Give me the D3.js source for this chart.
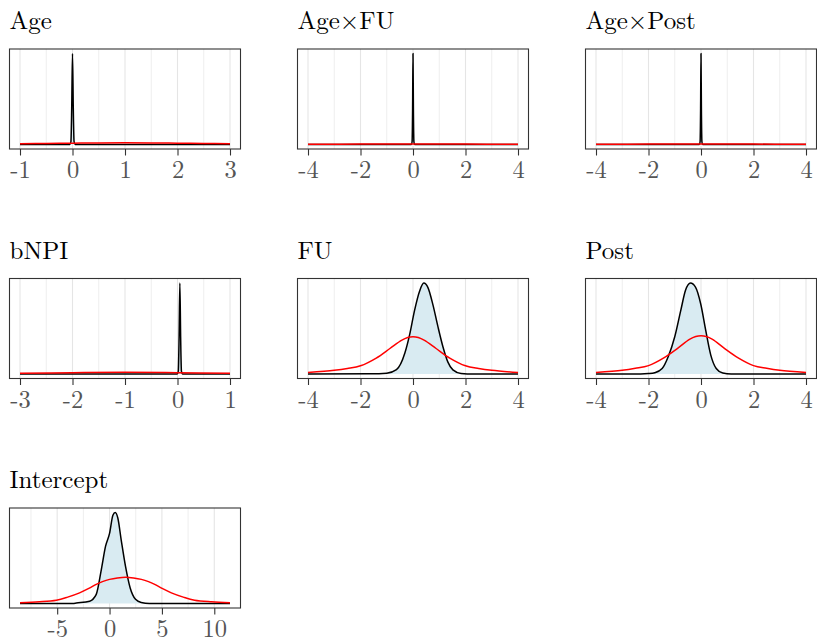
<!DOCTYPE html>
<html>
<head>
<meta charset="utf-8">
<script src="https://cdn.jsdelivr.net/npm/d3@7"></script>
<style>
  html, body { margin: 0; padding: 0; background: #ffffff; }
  svg { display: block; }
</style>
</head>
<body>
<svg id="chart" width="817" height="640"></svg>
<script>
// Parameter names, one facet each
const parameters = ["Age", "Age×FU", "Age×Post", "bNPI", "FU", "Post", "Intercept"];

// Range over which each density was evaluated
const ranges = [[-1, 3], [-4, 4], [-4, 4], [-3, 1], [-4, 4], [-4, 4], [-8.55, 11.5]];

// Axis tick values and their labels
const tickValues = [
  [-1, 0, 1, 2, 3],
  [-4, -2, 0, 2, 4],
  [-4, -2, 0, 2, 4],
  [-3, -2, -1, 0, 1],
  [-4, -2, 0, 2, 4],
  [-4, -2, 0, 2, 4],
  [-5, 0, 5, 10]
];
const tickLabels = [
  ["-1", "0", "1", "2", "3"],
  ["-4", "-2", "0", "2", "4"],
  ["-4", "-2", "0", "2", "4"],
  ["-3", "-2", "-1", "0", "1"],
  ["-4", "-2", "0", "2", "4"],
  ["-4", "-2", "0", "2", "4"],
  ["-5", "0", "5", "10"]
];
const minorGrid = [
  [-0.5, 0.5, 1.5, 2.5],
  [-3, -1, 1, 3],
  [-3, -1, 1, 3],
  [-2.5, -1.5, -0.5, 0.5],
  [-3, -1, 1, 3],
  [-3, -1, 1, 3],
  [-7.5, -2.5, 2.5, 7.5]
];

// Posterior densities [x, density] (relative to the posterior mode)
const postAge = [[-1, 0], [-0.05, 0], [-0.03, 0.03], [-0.015, 0.4], [0, 1], [0.015, 0.4], [0.03, 0.03], [0.05, 0], [3, 0]];
const postAgeFU = [[-4, 0], [-0.06, 0], [-0.035, 0.03], [-0.015, 0.4], [0, 1], [0.015, 0.4], [0.035, 0.03], [0.06, 0], [4, 0]];
const postAgePost = [[-4, 0], [-0.06, 0], [-0.035, 0.03], [-0.015, 0.4], [0, 1], [0.015, 0.4], [0.035, 0.03], [0.06, 0], [4, 0]];
const postBNPI = [[-3, 0], [-0.005, 0], [0.015, 0.03], [0.03, 0.4], [0.045, 1], [0.06, 0.4], [0.075, 0.03], [0.095, 0], [1, 0]];
const postFU = [[-4, 0], [-1.6, 0.001], [-1.0, 0.008], [-0.63, 0.047], [-0.31, 0.23], [-0.13, 0.43],
  [0.06, 0.70], [0.25, 0.91], [0.41, 1.0], [0.57, 0.95], [0.76, 0.76], [0.95, 0.52], [1.14, 0.30],
  [1.33, 0.13], [1.52, 0.045], [1.83, 0.006], [2.3, 0], [4, 0]];
const postPost = [[-4, 0], [-2.3, 0], [-2.0, 0.004], [-1.76, 0.014], [-1.48, 0.06], [-1.25, 0.19],
  [-1.0, 0.41], [-0.77, 0.70], [-0.59, 0.92], [-0.40, 1.0], [-0.21, 0.956], [-0.01, 0.77],
  [0.18, 0.48], [0.37, 0.21], [0.58, 0.06], [0.83, 0.01], [1.15, 0], [4, 0]];
const postIntercept = [[-8.55, 0], [-3.5, 0], [-3.17, 0.005], [-1.9, 0.025], [-1.27, 0.1], [-0.79, 0.37],
  [-0.38, 0.63], [0, 0.77], [0.32, 0.97], [0.54, 1.0], [0.79, 0.94], [1.11, 0.70], [1.52, 0.41],
  [1.97, 0.17], [2.48, 0.045], [3.02, 0.01], [3.8, 0], [11.5, 0]];

// Prior densities on the same relative scale
const priorAge = [[-1, 0.008], [-0.5, 0.011], [0, 0.014], [0.5, 0.017], [1, 0.018], [1.5, 0.017], [2, 0.014], [2.5, 0.011], [3, 0.008]];
const priorAgeFU = [[-4, 0.002], [-2, 0.004], [0, 0.006], [2, 0.004], [4, 0.002]];
const priorAgePost = [[-4, 0.002], [-2, 0.004], [0, 0.006], [2, 0.004], [4, 0.002]];
const priorBNPI = [[-3, 0.008], [-2, 0.014], [-1, 0.018], [0, 0.014], [1, 0.008]];
const priorFU = [[-4, 0.015], [-3, 0.04], [-2.5, 0.06], [-2, 0.09], [-1.4, 0.175], [-0.88, 0.28], [-0.44, 0.37],
  [-0.2, 0.402], [0, 0.41], [0.2, 0.402], [0.44, 0.37], [0.88, 0.28], [1.4, 0.175], [2, 0.09],
  [2.5, 0.06], [3, 0.04], [4, 0.015]];
const priorPost = [[-4, 0.015], [-3, 0.04], [-2.5, 0.062], [-2, 0.092], [-1.4, 0.18], [-0.88, 0.285], [-0.44, 0.38],
  [-0.2, 0.412], [0, 0.42], [0.2, 0.412], [0.44, 0.38], [0.88, 0.285], [1.4, 0.18], [2, 0.092],
  [2.5, 0.062], [3, 0.04], [4, 0.015]];
const priorIntercept = [[-8.55, 0.008], [-6.7, 0.018], [-5.08, 0.036], [-4, 0.07], [-2.86, 0.117], [-1.98, 0.165],
  [-1.27, 0.21], [-0.68, 0.24], [0, 0.265], [0.75, 0.281], [1.52, 0.289], [2.29, 0.281], [3.04, 0.265],
  [3.72, 0.24], [4.31, 0.21], [5.02, 0.165], [5.9, 0.117], [7.04, 0.07], [8.12, 0.036], [9.74, 0.018],
  [11.5, 0.008]];

const posteriors = [postAge, postAgeFU, postAgePost, postBNPI, postFU, postPost, postIntercept];
const priors = [priorAge, priorAgeFU, priorAgePost, priorBNPI, priorFU, priorPost, priorIntercept];

// Facet layout
const colLeft = [9.5, 297.5, 585.5];
const rowTop = [49, 278.5, 508];
const panelW = 231;
const panelH = 100;

const svg = d3.select("#chart");
const serif = '"Latin Modern Roman", "Liberation Serif", "Times New Roman", serif';

parameters.forEach((name, i) => {
  const col = i % 3, row = Math.floor(i / 3);
  const left = colLeft[col], top = rowTop[row];
  const g = svg.append("g").attr("transform", `translate(${left},${top})`);

  const [lo, hi] = ranges[i];
  const padX = (hi - lo) * 0.05;
  const x = d3.scaleLinear().domain([lo - padX, hi + padX]).range([0, panelW]);
  const yMax = d3.max(posteriors[i].concat(priors[i]), d => d[1]);
  const y = d3.scaleLinear().domain([-0.05 * yMax, 1.05 * yMax]).range([panelH, 0]);

  // facet title
  svg.append("text")
    .attr("x", left)
    .attr("y", top - 20)
    .style("font-family", serif)
    .style("font-size", "25px")
    .style("fill", "#000")
    .text(name);

  // grid lines
  g.selectAll("line.minor").data(minorGrid[i]).enter().append("line")
    .attr("x1", d => x(d)).attr("x2", d => x(d))
    .attr("y1", 0).attr("y2", panelH)
    .attr("stroke", "#eeeeee").attr("stroke-width", 1);
  g.selectAll("line.major").data(tickValues[i]).enter().append("line")
    .attr("x1", d => x(d)).attr("x2", d => x(d))
    .attr("y1", 0).attr("y2", panelH)
    .attr("stroke", "#e5e5e5").attr("stroke-width", 1.1);

  const area = d3.area().x(d => x(d[0])).y0(y(0)).y1(d => y(d[1])).curve(d3.curveMonotoneX);
  const line = d3.line().x(d => x(d[0])).y(d => y(d[1])).curve(d3.curveMonotoneX);
  const smooth = d3.line().x(d => x(d[0])).y(d => y(d[1])).curve(d3.curveCatmullRom.alpha(0.5));

  g.append("path").datum(posteriors[i]).attr("d", area)
    .attr("fill", "#d9ebf2").attr("stroke", "none");
  g.append("path").datum(posteriors[i]).attr("d", line)
    .attr("fill", "none").attr("stroke", "#000").attr("stroke-width", 1.5)
    .attr("stroke-linejoin", "round");
  g.append("path").datum(priors[i]).attr("d", smooth)
    .attr("fill", "none").attr("stroke", "#ff0000").attr("stroke-width", 1.5)
    .attr("stroke-linejoin", "round");

  // panel border
  g.append("rect").attr("x", 0).attr("y", 0).attr("width", panelW).attr("height", panelH)
    .attr("fill", "none").attr("stroke", "#333").attr("stroke-width", 1.1);

  // x axis
  const axis = d3.axisBottom(x)
    .tickValues(tickValues[i])
    .tickFormat((d, k) => tickLabels[i][k])
    .tickSize(6.5).tickPadding(4);
  const ax = g.append("g").attr("transform", `translate(0,${panelH})`).call(axis);
  ax.select(".domain").remove();
  ax.selectAll(".tick line").attr("stroke", "#333").attr("stroke-width", 1.1);
  ax.selectAll(".tick text")
    .style("font-family", serif)
    .style("font-size", "24.5px")
    .style("fill", "#555")
    .attr("dy", null)
    .attr("y", 29);
});
</script>
</body>
</html>
